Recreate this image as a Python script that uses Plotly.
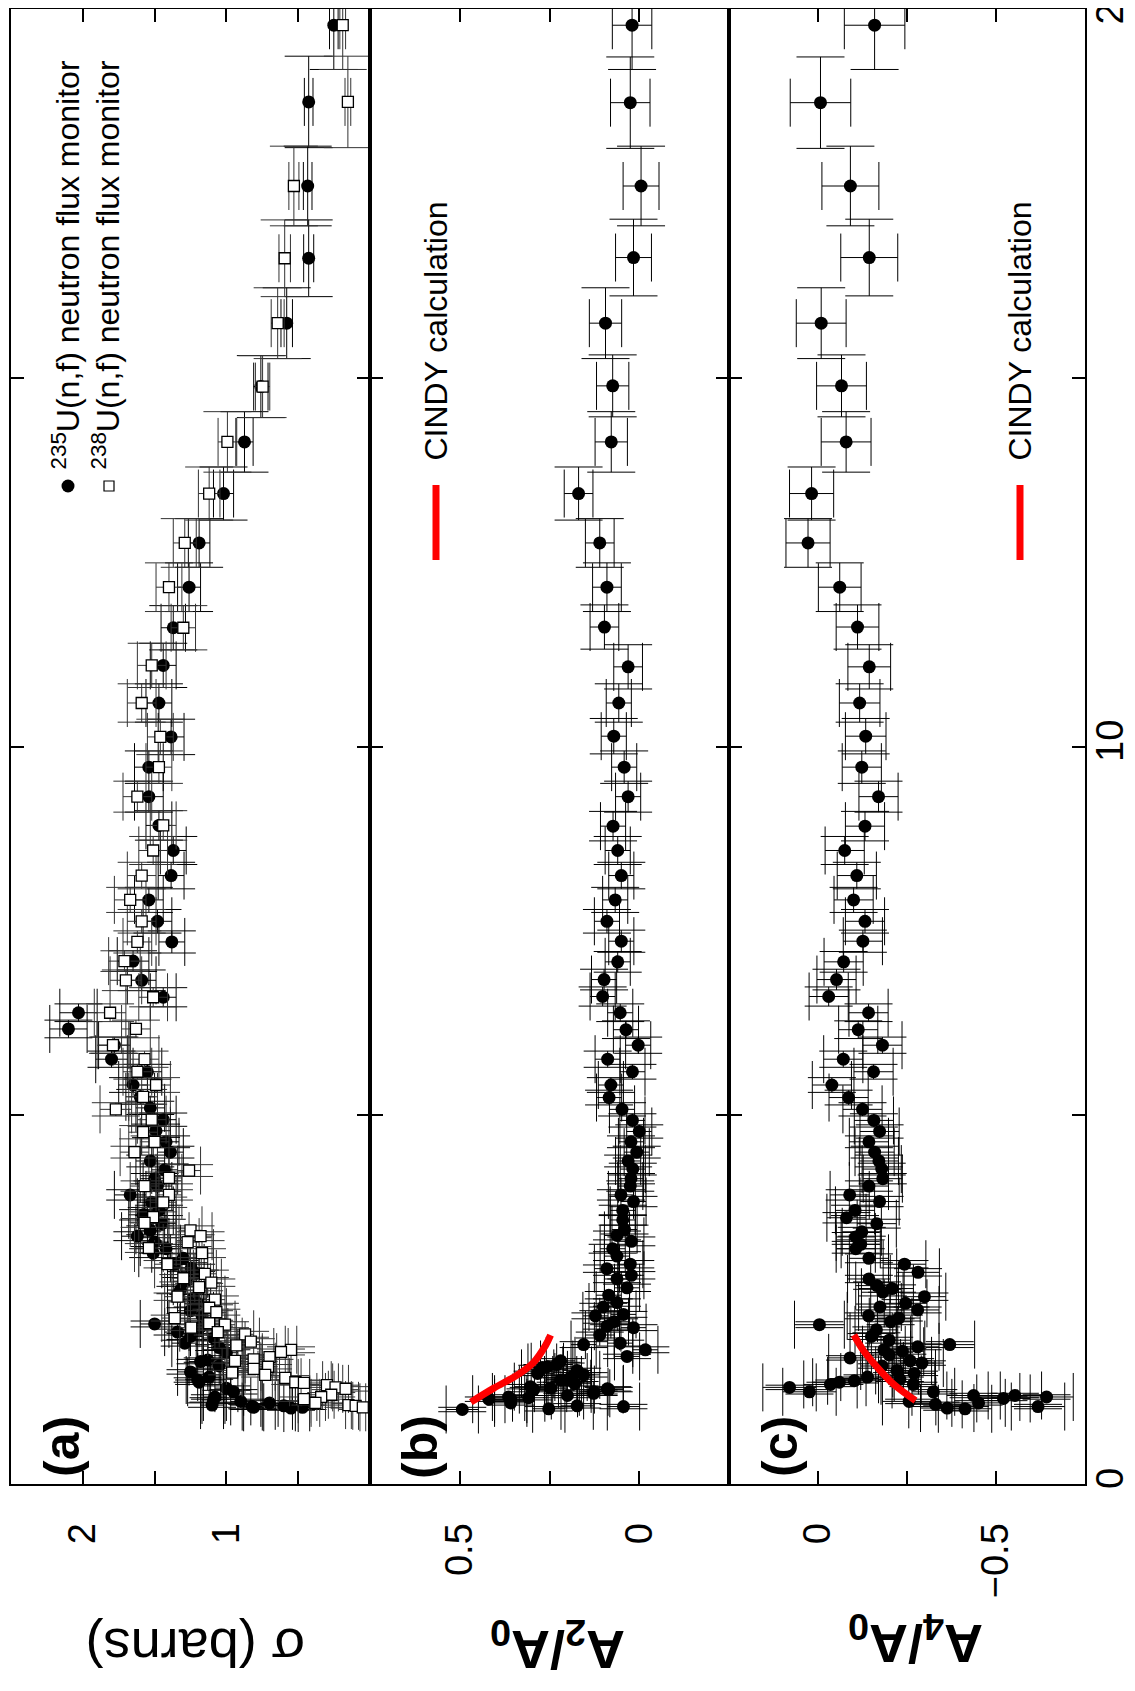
import plotly.graph_objects as go

# ---------------- data ----------------
# Panel (a): 235U(n,f) flux monitor (filled circles)
A235_E = [19.78, 18.74, 17.60, 16.62, 15.74, 14.88, 14.13, 13.43, 12.76, 12.16,
          11.61, 11.10, 10.59, 10.13, 9.72, 9.32, 8.93, 8.59, 8.25, 7.92,
          7.63, 7.35, 7.09, 6.83, 6.60, 6.39, 6.17, 5.95, 5.76, 5.59,
          5.41, 5.25, 5.10, 4.94, 4.79, 4.64, 4.50, 4.38, 4.26, 4.14,
          4.04, 3.92, 3.82, 3.71, 3.65, 3.53, 3.44, 3.36, 3.28, 3.19,
          3.13, 3.06, 2.98, 2.93, 2.85, 2.75, 2.63, 2.52, 2.45, 2.35,
          2.28, 2.17, 2.13, 2.06, 2.00, 1.98, 1.91, 1.85, 1.78, 1.68,
          1.66, 1.60, 1.52, 1.45, 1.41, 1.38, 1.30, 1.25, 1.18, 1.14,
          1.12, 1.10, 1.07, 1.06, 1.05, 1.04, 1.04, 1.03]
A235_SIG = [0.252, 0.427, 0.434, 0.427, 0.580, 0.760, 0.874, 1.020, 1.190, 1.260,
            1.370, 1.440, 1.470, 1.385, 1.540, 1.540, 1.470, 1.370, 1.385, 1.540,
            1.480, 1.380, 1.650, 1.590, 1.440, 2.030, 2.100, 1.780, 1.800, 1.550,
            1.650, 1.600, 1.530, 1.440, 1.490, 1.420, 1.390, 1.530, 1.430, 1.500,
            1.480, 1.670, 1.520, 1.470, 1.580, 1.450, 1.530, 1.620, 1.500, 1.420,
            1.510, 1.300, 1.360, 1.245, 1.220, 1.280, 1.320, 1.230, 1.200, 1.250,
            1.170, 1.500, 1.180, 1.340, 1.250, 1.090, 1.290, 1.050, 1.000, 1.130,
            1.180, 1.050, 1.250, 1.120, 1.200, 1.190, 1.000, 0.950, 1.080, 1.090,
            0.900, 0.700, 1.100, 0.600, 0.820, 0.810, 0.470, 0.550]
A235_DE = [0.60, 0.62, 0.54, 0.52, 0.48, 0.42, 0.41, 0.36, 0.33, 0.33,
           0.30, 0.30, 0.26, 0.24, 0.22, 0.21, 0.20, 0.19, 0.18, 0.17,
           0.16, 0.15, 0.14, 0.14, 0.13, 0.12, 0.12, 0.11, 0.11, 0.10,
           0.10, 0.10, 0.09, 0.09, 0.09, 0.08, 0.08, 0.08, 0.08, 0.07,
           0.07, 0.07, 0.07, 0.07, 0.07, 0.06, 0.06, 0.06, 0.06, 0.06,
           0.06, 0.06, 0.05, 0.05, 0.05, 0.05, 0.05, 0.05, 0.05, 0.04,
           0.04, 0.04, 0.04, 0.04, 0.04, 0.04, 0.04, 0.04, 0.04, 0.03,
           0.03, 0.03, 0.03, 0.03, 0.03, 0.03, 0.03, 0.03, 0.03, 0.03,
           0.03, 0.03, 0.03, 0.03, 0.03, 0.03, 0.03, 0.03]
A235_DSIG = [0.03, 0.03, 0.03, 0.035, 0.04, 0.05, 0.06, 0.07, 0.075, 0.08,
             0.085, 0.09, 0.09, 0.09, 0.10, 0.10, 0.09, 0.09, 0.09, 0.10,
             0.10, 0.09, 0.11, 0.10, 0.09, 0.13, 0.13, 0.11, 0.11, 0.10,
             0.10, 0.10, 0.10, 0.09, 0.10, 0.09, 0.09, 0.10, 0.09, 0.10,
             0.10, 0.11, 0.10, 0.10, 0.10, 0.10, 0.10, 0.11, 0.10, 0.10,
             0.10, 0.09, 0.09, 0.09, 0.09, 0.09, 0.09, 0.09, 0.09, 0.09,
             0.08, 0.10, 0.08, 0.09, 0.09, 0.08, 0.09, 0.08, 0.08, 0.08,
             0.08, 0.08, 0.09, 0.08, 0.08, 0.08, 0.08, 0.07, 0.08, 0.08,
             0.07, 0.06, 0.08, 0.06, 0.07, 0.07, 0.05, 0.05]

# Panel (a): 238U(n,f) flux monitor (open squares)
A238_E = [19.78, 18.74, 17.60, 16.62, 15.74, 14.88, 14.13, 13.43, 12.76, 12.16,
          11.61, 11.10, 10.59, 10.13, 9.72, 9.32, 8.93, 8.59, 8.25, 7.92,
          7.63, 7.35, 7.09, 6.83, 6.60, 6.39, 6.17, 5.95, 5.76, 5.59,
          5.41, 5.25, 5.08, 4.94, 4.77, 4.64, 4.50, 4.25, 4.15, 4.04,
          3.92, 3.82, 3.62, 3.54, 3.44, 3.36, 3.28, 3.20, 3.13, 2.98,
          2.85, 2.79, 2.73, 2.67, 2.54, 2.50, 2.39, 2.33, 2.25, 2.18,
          2.16, 2.12, 2.06, 2.03, 1.93, 1.88, 1.82, 1.79, 1.72, 1.69,
          1.67, 1.59, 1.56, 1.51, 1.48, 1.44, 1.38, 1.37, 1.34, 1.31,
          1.29, 1.21, 1.18, 1.15, 1.10, 1.07, 1.06, 1.04]
A238_SIG = [0.190, 0.154, 0.530, 0.594, 0.643, 0.748, 0.993, 1.120, 1.290, 1.400,
            1.300, 1.520, 1.590, 1.460, 1.470, 1.620, 1.440, 1.510, 1.590, 1.670,
            1.590, 1.620, 1.710, 1.700, 1.510, 1.810, 1.630, 1.790, 1.570, 1.620,
            1.490, 1.580, 1.770, 1.520, 1.580, 1.500, 1.640, 1.260, 1.400, 1.570,
            1.400, 1.440, 1.510, 1.570, 1.250, 1.180, 1.270, 1.540, 1.170, 1.410,
            1.150, 1.300, 1.105, 1.190, 1.340, 1.080, 1.120, 1.070, 1.360, 1.120,
            1.010, 1.245, 1.060, 0.870, 0.830, 0.930, 0.550, 0.620, 0.700, 0.810,
            0.940, 0.710, 0.810, 0.960, 0.730, 0.590, 0.520, 0.460, 0.300, 0.240,
            0.170, 0.270, 0.340, 0.460, 0.380, 0.150, 0.100, 0.050]
A238_DE = [0.60, 0.62, 0.54, 0.52, 0.48, 0.42, 0.41, 0.36, 0.33, 0.33,
           0.30, 0.30, 0.26, 0.24, 0.22, 0.21, 0.20, 0.19, 0.18, 0.17,
           0.16, 0.15, 0.14, 0.14, 0.13, 0.12, 0.12, 0.11, 0.11, 0.10,
           0.10, 0.10, 0.09, 0.09, 0.09, 0.08, 0.08, 0.08, 0.08, 0.07,
           0.07, 0.07, 0.07, 0.06, 0.06, 0.06, 0.06, 0.06, 0.06, 0.05,
           0.05, 0.05, 0.05, 0.05, 0.05, 0.05, 0.04, 0.04, 0.04, 0.04,
           0.04, 0.04, 0.04, 0.04, 0.04, 0.04, 0.04, 0.04, 0.03, 0.03,
           0.03, 0.03, 0.03, 0.03, 0.03, 0.03, 0.03, 0.03, 0.03, 0.03,
           0.03, 0.03, 0.03, 0.03, 0.03, 0.03, 0.03, 0.03]
A238_DSIG = [0.02, 0.02, 0.035, 0.04, 0.045, 0.05, 0.065, 0.075, 0.08, 0.09,
             0.085, 0.10, 0.10, 0.09, 0.09, 0.10, 0.09, 0.10, 0.10, 0.11,
             0.10, 0.10, 0.11, 0.11, 0.10, 0.11, 0.10, 0.11, 0.10, 0.10,
             0.10, 0.10, 0.11, 0.10, 0.10, 0.10, 0.10, 0.08, 0.09, 0.10,
             0.09, 0.09, 0.10, 0.10, 0.08, 0.08, 0.08, 0.10, 0.08, 0.09,
             0.08, 0.08, 0.07, 0.08, 0.09, 0.07, 0.07, 0.07, 0.09, 0.07,
             0.07, 0.08, 0.07, 0.06, 0.06, 0.06, 0.04, 0.05, 0.05, 0.06,
             0.06, 0.05, 0.06, 0.07, 0.05, 0.04, 0.04, 0.04, 0.03, 0.02,
             0.02, 0.02, 0.03, 0.04, 0.03, 0.02, 0.02, 0.02]

# Panel (b): A2/A0
B_E = [19.78, 18.73, 17.60, 16.63, 15.74, 14.89, 14.13, 13.43, 12.76, 12.16,
       11.62, 11.08, 10.59, 10.14, 9.72, 9.32, 8.92, 8.59, 8.25, 7.92,
       7.63, 7.36, 7.08, 6.84, 6.61, 6.39, 6.16, 5.95, 5.76, 5.59,
       5.41, 5.24, 5.08, 4.93, 4.78, 4.64, 4.50, 4.38, 4.27, 4.14,
       4.04, 3.92, 3.83, 3.71, 3.58, 3.45, 3.37, 3.29, 3.19, 3.09,
       2.98, 2.92, 2.83, 2.78, 2.66, 2.56, 2.46, 2.30, 2.28, 2.14,
       2.12, 1.91, 1.89, 1.82, 1.73, 1.67, 1.54, 1.58, 1.41, 1.25,
       1.28, 1.28, 1.15, 1.15, 1.01, 1.02, 1.06, 1.05, 1.18, 1.10,
       1.17, 1.59, 1.45, 1.48, 1.23, 1.29, 1.41, 1.50, 1.30, 1.32,
       1.36, 1.20, 1.62, 2.02, 2.20, 2.40]
B_A2 = [0.020, 0.025, -0.005, 0.016, 0.094, 0.074, 0.078, 0.169, 0.110, 0.090,
        0.097, 0.031, 0.057, 0.071, 0.042, 0.031, 0.073, 0.060, 0.050, 0.067,
        0.090, 0.050, 0.060, 0.098, 0.102, 0.053, 0.037, 0.003, 0.088, 0.019,
        0.079, 0.084, 0.048, 0.019, 0.000, 0.023, 0.007, 0.031, 0.018, 0.023,
        0.025, 0.051, 0.016, 0.046, 0.046, 0.041, 0.062, 0.022, 0.074, 0.062,
        0.025, 0.090, 0.022, 0.062, 0.034, 0.085, 0.062, 0.044, 0.122, 0.090,
        0.016, 0.053, 0.155, -0.017, 0.034, 0.219, 0.173, 0.270, 0.201, 0.127,
        0.085, 0.294, 0.358, 0.419, 0.493, 0.252, 0.173, 0.044, 0.364, 0.358,
        0.308, 0.256, 0.190, 0.155, 0.127, 0.089, 0.219, 0.283, 0.247, 0.303,
        0.180, 0.200, 0.230, 0.110, 0.070, 0.100]
B_DE = [0.60, 0.62, 0.54, 0.52, 0.48, 0.42, 0.41, 0.36, 0.33, 0.33,
        0.30, 0.30, 0.26, 0.24, 0.22, 0.21, 0.20, 0.19, 0.18, 0.17,
        0.16, 0.15, 0.14, 0.14, 0.13, 0.12, 0.12, 0.11, 0.11, 0.10,
        0.10, 0.10, 0.09, 0.09, 0.09, 0.08, 0.08, 0.08, 0.08, 0.07,
        0.07, 0.07, 0.07, 0.07, 0.07, 0.06, 0.06, 0.06, 0.06, 0.06,
        0.05, 0.05, 0.05, 0.05, 0.05, 0.05, 0.05, 0.04, 0.04, 0.04,
        0.04, 0.04, 0.04, 0.04, 0.03, 0.03, 0.03, 0.03, 0.03, 0.03,
        0.03, 0.03, 0.03, 0.03, 0.03, 0.03, 0.03, 0.03, 0.03, 0.03,
        0.03, 0.03, 0.03, 0.03, 0.03, 0.03, 0.03, 0.03, 0.03, 0.03,
        0.03, 0.03, 0.03, 0.04, 0.04, 0.05]
B_DA = [0.055, 0.055, 0.050, 0.050, 0.045, 0.045, 0.045, 0.040, 0.040, 0.040,
        0.040, 0.040, 0.035, 0.035, 0.035, 0.035, 0.035, 0.035, 0.035, 0.035,
        0.035, 0.035, 0.035, 0.035, 0.035, 0.035, 0.035, 0.035, 0.035, 0.035,
        0.035, 0.035, 0.035, 0.035, 0.035, 0.035, 0.035, 0.035, 0.035, 0.035,
        0.035, 0.035, 0.035, 0.035, 0.035, 0.035, 0.035, 0.035, 0.035, 0.035,
        0.035, 0.035, 0.035, 0.035, 0.035, 0.035, 0.035, 0.035, 0.035, 0.035,
        0.035, 0.035, 0.035, 0.035, 0.035, 0.040, 0.040, 0.040, 0.040, 0.040,
        0.040, 0.040, 0.045, 0.045, 0.045, 0.045, 0.045, 0.045, 0.045, 0.045,
        0.045, 0.045, 0.045, 0.045, 0.045, 0.045, 0.045, 0.045, 0.045, 0.045,
        0.045, 0.045, 0.045, 0.040, 0.040, 0.040]
B_CINDY_E = [1.11, 1.30, 1.48, 1.65, 1.88, 2.02]
B_CINDY_A2 = [0.469, 0.405, 0.339, 0.294, 0.261, 0.247]

# Panel (c): A4/A0
C_E = [19.78, 18.73, 17.60, 16.63, 15.74, 14.89, 14.13, 13.43, 12.76, 12.16,
       11.62, 11.08, 10.59, 10.14, 9.72, 9.32, 8.92, 8.59, 8.25, 7.92,
       7.63, 7.36, 7.08, 6.84, 6.61, 6.39, 6.16, 5.95, 5.76, 5.59,
       5.41, 5.24, 5.08, 4.93, 4.78, 4.64, 4.50, 4.38, 4.27, 4.14,
       4.04, 3.92, 3.83, 3.71, 3.61, 3.53, 3.42, 3.35, 3.25, 3.19,
       3.06, 2.98, 2.87, 2.78, 2.69, 2.60, 2.65, 2.54, 2.36, 2.45,
       2.40, 2.28, 2.25, 2.20, 2.16, 2.09, 1.89, 1.86, 1.80, 1.82,
       1.71, 1.67, 1.64, 1.54, 1.35, 1.25, 1.31, 1.25, 1.35, 1.38,
       1.40, 1.45, 1.12, 1.08, 1.03, 1.02, 1.20, 1.10, 1.16, 1.20,
       1.05, 1.18, 1.95, 2.00, 1.75, 1.60, 1.50, 1.42]
C_A4 = [-0.159, -0.007, -0.091, -0.144, -0.009, -0.066, -0.079, 0.018, 0.028, -0.061,
        -0.111, -0.144, -0.117, -0.134, -0.123, -0.170, -0.132, -0.075, -0.109, -0.100,
        -0.132, -0.126, -0.072, -0.052, -0.030, -0.142, -0.113, -0.181, -0.071, -0.156,
        -0.039, -0.086, -0.125, -0.157, -0.173, -0.143, -0.159, -0.171, -0.179, -0.182,
        -0.143, -0.089, -0.173, -0.104, -0.080, -0.165, -0.123, -0.106, -0.120, -0.106,
        -0.143, -0.243, -0.281, -0.143, -0.166, -0.182, -0.208, -0.299, -0.280, -0.246,
        -0.174, -0.142, -0.227, -0.204, -0.004, -0.164, -0.370, -0.280, -0.237, -0.185,
        -0.090, -0.259, -0.292, -0.222, -0.268, -0.324, 0.080, 0.024, -0.035, -0.060,
        -0.102, -0.139, -0.256, -0.330, -0.363, -0.413, -0.437, -0.451, -0.521, -0.553,
        -0.618, -0.642, -0.200, -0.150, -0.200, -0.180, -0.270, -0.230]
C_DE = [0.60, 0.62, 0.54, 0.52, 0.48, 0.42, 0.41, 0.36, 0.33, 0.33,
        0.30, 0.30, 0.26, 0.24, 0.22, 0.21, 0.20, 0.19, 0.18, 0.17,
        0.16, 0.15, 0.14, 0.14, 0.13, 0.12, 0.12, 0.11, 0.11, 0.10,
        0.10, 0.10, 0.09, 0.09, 0.09, 0.08, 0.08, 0.08, 0.08, 0.07,
        0.07, 0.07, 0.07, 0.07, 0.07, 0.06, 0.06, 0.06, 0.06, 0.06,
        0.06, 0.05, 0.05, 0.05, 0.05, 0.05, 0.05, 0.05, 0.04, 0.05,
        0.04, 0.04, 0.04, 0.04, 0.04, 0.04, 0.04, 0.04, 0.04, 0.04,
        0.03, 0.03, 0.03, 0.03, 0.03, 0.03, 0.03, 0.03, 0.03, 0.03,
        0.03, 0.03, 0.03, 0.03, 0.03, 0.03, 0.03, 0.03, 0.03, 0.03,
        0.03, 0.03, 0.04, 0.04, 0.03, 0.03, 0.03, 0.03]
C_DA = [0.085, 0.085, 0.080, 0.080, 0.070, 0.070, 0.070, 0.062, 0.062, 0.060,
        0.060, 0.060, 0.057, 0.057, 0.055, 0.055, 0.055, 0.055, 0.055, 0.055,
        0.055, 0.055, 0.055, 0.055, 0.055, 0.055, 0.055, 0.055, 0.055, 0.055,
        0.055, 0.055, 0.055, 0.055, 0.055, 0.055, 0.055, 0.055, 0.055, 0.055,
        0.055, 0.055, 0.055, 0.055, 0.055, 0.055, 0.055, 0.055, 0.055, 0.055,
        0.055, 0.060, 0.060, 0.060, 0.060, 0.060, 0.060, 0.060, 0.060, 0.060,
        0.060, 0.060, 0.060, 0.060, 0.070, 0.060, 0.070, 0.060, 0.060, 0.060,
        0.060, 0.060, 0.060, 0.060, 0.060, 0.060, 0.075, 0.075, 0.075, 0.075,
        0.075, 0.075, 0.075, 0.075, 0.075, 0.075, 0.075, 0.075, 0.075, 0.075,
        0.075, 0.075, 0.060, 0.060, 0.060, 0.060, 0.060, 0.060]
C_CINDY_E = [1.13, 1.35, 1.58, 1.80, 2.02]
C_CINDY_A4 = [-0.274, -0.213, -0.167, -0.129, -0.101]

# Axis ranges / ticks
E_RANGE = [0, 20]
E_TICKS = [0, 10, 20]
E_TICKTEXT = ["0", "10", "20"]
E_MINOR = [5, 15]
SIG_RANGE = [2.5, 0]
SIG_TICKS = [2, 1]
SIG_TICKTEXT = ["2", "1"]
SIG_MINOR = [1.5, 0.5]
A2_RANGE = [0.75, -0.25]
A2_TICKS = [0.5, 0]
A2_TICKTEXT = ["0.5", "0"]
A2_MINOR = [0.25]
A4_RANGE = [0.25, -0.75]
A4_TICKS = [0, -0.5]
A4_TICKTEXT = ["0", "\u22120.5"]
A4_MINOR = [-0.25]

# ---------------- layout geometry (page pixels) ----------------
# The page body adds an 8 px offset, so the figure is 8 px smaller and the
# margins are shifted so that the frame lands where the reference has it.
OFF = 8
W, H = 1135 - OFF, 1691 - OFF
L, R, T, B = 11, 1085, 9, 1484          # frame in page pixels
def X(px):
    return (px - L) / (R - L)
def Y(py):
    return (B - py) / (B - T)

FONT = "Liberation Sans, Arial, Helvetica, sans-serif"
TICKSIZE = 38

def err(arr, color="black", width=24):
    return dict(type="data", array=arr, symmetric=True, color=color,
                thickness=1, width=width)

fig = go.Figure()

# panel (a)
fig.add_trace(go.Scatter(x=A235_SIG, y=A235_E, mode="markers", xaxis="x", yaxis="y",
                         marker=dict(symbol="circle", size=13, color="black"),
                         error_x=err(A235_DSIG), error_y=err(A235_DE),
                         showlegend=False, hoverinfo="skip"))
fig.add_trace(go.Scatter(x=A238_SIG, y=A238_E, mode="markers", xaxis="x", yaxis="y",
                         marker=dict(symbol="square", size=11, color="white",
                                     line=dict(color="black", width=1.3)),
                         error_x=err(A238_DSIG, "#333333"), error_y=err(A238_DE, "#333333"),
                         showlegend=False, hoverinfo="skip"))
# panel (b)
fig.add_trace(go.Scatter(x=B_A2, y=B_E, mode="markers", xaxis="x2", yaxis="y2",
                         marker=dict(symbol="circle", size=13, color="black"),
                         error_x=err(B_DA), error_y=err(B_DE),
                         showlegend=False, hoverinfo="skip"))
fig.add_trace(go.Scatter(x=B_CINDY_A2, y=B_CINDY_E, mode="lines", xaxis="x2", yaxis="y2",
                         line=dict(color="#ff0000", width=7, shape="spline"),
                         showlegend=False, hoverinfo="skip"))
# panel (c)
fig.add_trace(go.Scatter(x=C_A4, y=C_E, mode="markers", xaxis="x3", yaxis="y3",
                         marker=dict(symbol="circle", size=13, color="black"),
                         error_x=err(C_DA), error_y=err(C_DE),
                         showlegend=False, hoverinfo="skip"))
fig.add_trace(go.Scatter(x=C_CINDY_A4, y=C_CINDY_E, mode="lines", xaxis="x3", yaxis="y3",
                         line=dict(color="#ff0000", width=7, shape="spline"),
                         showlegend=False, hoverinfo="skip"))

xcommon = dict(showline=True, linecolor="black", linewidth=2, mirror="ticks",
               ticks="inside", ticklen=13, tickwidth=1.5, tickcolor="black",
               tickangle=-90, tickfont=dict(size=TICKSIZE, color="black", family=FONT),
               ticklabelstandoff=22, showgrid=False, zeroline=False, fixedrange=True,
               tickmode="array", automargin=False)
ycommon = dict(showline=True, linecolor="black", linewidth=2, mirror="ticks",
               ticks="inside", ticklen=13, tickwidth=1.5, tickcolor="black",
               showgrid=False, zeroline=False, fixedrange=True, range=E_RANGE,
               tickmode="array", tickvals=E_TICKS, ticktext=E_TICKTEXT,
               automargin=False,
               minor=dict(tickmode="array", tickvals=E_MINOR, ticks="inside",
                          ticklen=13, tickwidth=1.5, tickcolor="black", showgrid=False))

def xminor(vals):
    return dict(tickmode="array", tickvals=vals, ticks="inside", ticklen=13,
                tickwidth=1.5, tickcolor="black", showgrid=False)

fig.update_layout(
    width=W, height=H,
    margin=dict(l=L - OFF, r=W - (R - OFF), t=T - OFF, b=H - (B - OFF), pad=0,
                autoexpand=False),
    paper_bgcolor="white", plot_bgcolor="white",
    font=dict(family=FONT, color="black"),
    xaxis=dict(xcommon, domain=[0, X(370)], range=SIG_RANGE,
               tickvals=SIG_TICKS, ticktext=SIG_TICKTEXT, anchor="y",
               minor=xminor(SIG_MINOR)),
    xaxis2=dict(xcommon, domain=[X(370), X(729)], range=A2_RANGE,
                tickvals=A2_TICKS, ticktext=A2_TICKTEXT, anchor="y2",
                minor=xminor(A2_MINOR)),
    xaxis3=dict(xcommon, domain=[X(729), 1], range=A4_RANGE,
                tickvals=A4_TICKS, ticktext=A4_TICKTEXT, anchor="y3",
                minor=xminor(A4_MINOR)),
    yaxis=dict(ycommon, anchor="x", showticklabels=False),
    yaxis2=dict(ycommon, anchor="x2", showticklabels=False),
    yaxis3=dict(ycommon, anchor="x3", side="right", showticklabels=True,
                tickangle=-90, ticklabelstandoff=-10, ticklabeloverflow="allow",
                tickfont=dict(size=TICKSIZE, color="black", family=FONT)),
)

ann = []
# axis titles (upside-down as in the rotated original)
ann.append(dict(text="\u03c3 (barns)", x=X(196), y=Y(1648), xref="paper", yref="paper",
                showarrow=False, textangle=180, font=dict(size=54),
                xanchor="center", yanchor="middle"))
ann.append(dict(text="<b>A<sub>2</sub>/A<sub>0</sub></b>", x=X(558), y=Y(1646),
                xref="paper", yref="paper", showarrow=False, textangle=180,
                font=dict(size=54), xanchor="center", yanchor="middle"))
ann.append(dict(text="<b>A<sub>4</sub>/A<sub>0</sub></b>", x=X(916), y=Y(1640),
                xref="paper", yref="paper", showarrow=False, textangle=180,
                font=dict(size=54), xanchor="center", yanchor="middle"))
# panel labels
for lab, px in (("(a)", 62), ("(b)", 420), ("(c)", 780)):
    ann.append(dict(text="<b>" + lab + "</b>", x=X(px), y=Y(1447), xref="paper", yref="paper",
                    showarrow=False, textangle=-90, font=dict(size=50),
                    xanchor="center", yanchor="middle"))
# legend texts
ann.append(dict(text="<sup>235</sup>U(n,f) neutron flux monitor", x=X(65), y=Y(472),
                xref="paper", yref="paper", showarrow=False, textangle=-90,
                font=dict(size=32), xanchor="center", yanchor="bottom"))
ann.append(dict(text="<sup>238</sup>U(n,f) neutron flux monitor", x=X(105), y=Y(472),
                xref="paper", yref="paper", showarrow=False, textangle=-90,
                font=dict(size=32), xanchor="center", yanchor="bottom"))
for px in (435, 1019):
    ann.append(dict(text="CINDY calculation", x=X(px), y=Y(463), xref="paper", yref="paper",
                    showarrow=False, textangle=-90, font=dict(size=32),
                    xanchor="center", yanchor="bottom"))
fig.update_layout(annotations=ann)

shapes = [
    dict(type="circle", xref="paper", yref="paper", xsizemode="pixel", ysizemode="pixel",
         xanchor=X(68), yanchor=Y(486), x0=-6.5, x1=6.5, y0=-6.5, y1=6.5,
         fillcolor="black", line=dict(width=0)),
    dict(type="rect", xref="paper", yref="paper", xsizemode="pixel", ysizemode="pixel",
         xanchor=X(109), yanchor=Y(486), x0=-5, x1=5, y0=-5, y1=5,
         fillcolor="white", line=dict(color="black", width=1.2)),
    dict(type="line", xref="paper", yref="paper", x0=X(436), x1=X(436), y0=Y(485), y1=Y(560),
         line=dict(color="#ff0000", width=7)),
    dict(type="line", xref="paper", yref="paper", x0=X(1020), x1=X(1020), y0=Y(485), y1=Y(560),
         line=dict(color="#ff0000", width=7)),
]
fig.update_layout(shapes=shapes)

fig.write_html("out.html")
